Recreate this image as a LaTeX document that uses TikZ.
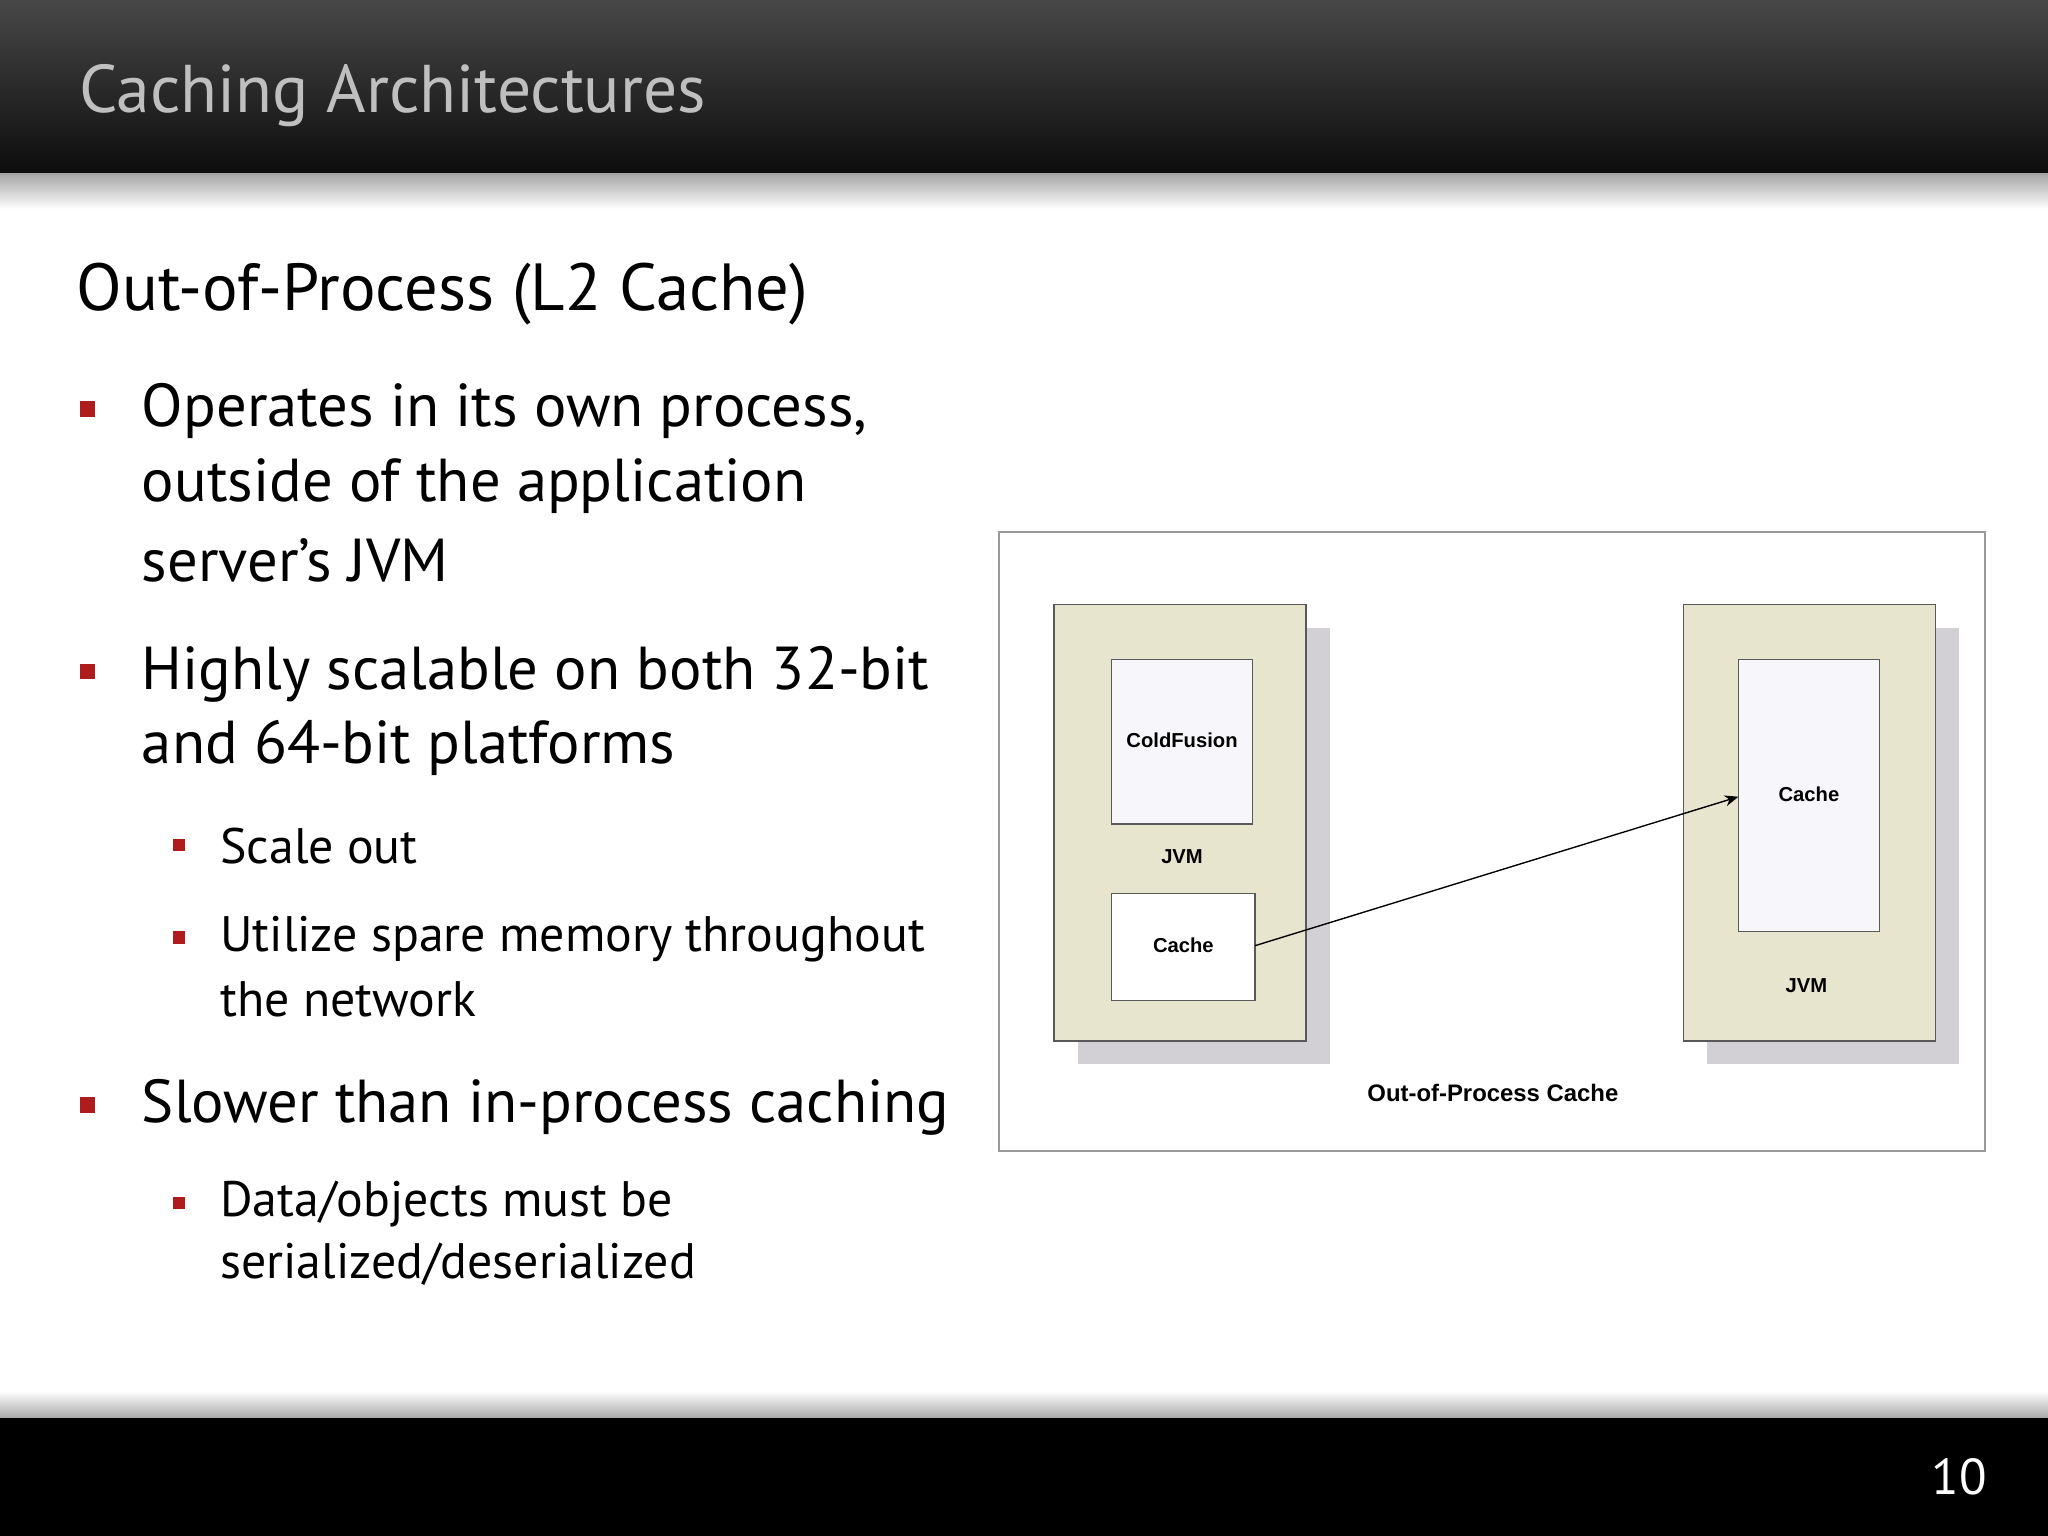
\documentclass[tikz,border=0pt]{standalone}
\usepackage{fontspec}
\setmainfont{PT Sans}
\newfontfamily\diag{Liberation Sans}
\usetikzlibrary{arrows.meta}
\definecolor{jvmfill}{HTML}{E8E5CF}
\definecolor{shadowgray}{HTML}{D2D0D5}
\definecolor{inner}{HTML}{F7F6FA}
\definecolor{bulred}{HTML}{B01C1C}
\tikzset{
  jvm/.style={draw=gray!70!black, fill=jvmfill, line width=0.3pt},
  box/.style={draw=gray!70!black, line width=0.3pt},
  lbl/.style={font=\diag\bfseries\fontsize{4.4}{5}\selectfont},
  main/.style={anchor=west, inner sep=0, font=\fontsize{13.2}{15}\selectfont},
  sub/.style={anchor=west, inner sep=0, font=\fontsize{10.85}{12}\selectfont},
  bul/.style={fill=bulred, minimum size=3.4pt, inner sep=0}
}
\begin{document}
\begin{tikzpicture}[x=0.01cm,y=-0.01cm]
\useasboundingbox (0,0) rectangle (1568,1176);
% header
\shade[top color=black!72, bottom color=black!95] (0,0) rectangle (1568,133);
\shade[top color=black!35, bottom color=white] (0,133) rectangle (1568,160);
\node[anchor=west, inner sep=0, text=black!25, font=\fontsize{14.7}{16}\selectfont] (title) at (60,73) {Caching Architectures};
% footer
\shade[top color=white, bottom color=black!35] (0,1065) rectangle (1568,1086);
\fill[black] (0,1086) rectangle (1568,1176);
\node[inner sep=0, text=white, font=\fontsize{11}{12}\selectfont] (page) at (1500,1131) {10};
% text
\node[anchor=west, inner sep=0, font=\fontsize{14.5}{16}\selectfont] (head) at (58,225) {Out-of-Process (L2 Cache)};
\node[bul] (b1) at (67,313) {};
\node[main] (t1a) at (108,315) {Operates in its own process,};
\node[main] (t1b) at (108,372) {outside of the application};
\node[main] (t1c) at (108,429) {server’s JVM};
\node[bul] (b2) at (67,514) {};
\node[main] (t2a) at (108,516) {Highly scalable on both 32-bit};
\node[main] (t2b) at (108,573) {and 64-bit platforms};
\node[bul, minimum size=2.8pt] (b3) at (137,647) {};
\node[sub] (t3) at (168,648) {Scale out};
\node[bul, minimum size=2.8pt] (b4) at (137,718) {};
\node[sub] (t4a) at (168,719) {Utilize spare memory throughout};
\node[sub] (t4b) at (168,765) {the network};
\node[bul] (b5) at (67,846) {};
\node[main] (t5) at (108,848) {Slower than in-process caching};
\node[bul, minimum size=2.8pt] (b6) at (137,921) {};
\node[sub] (t6a) at (168,922) {Data/objects must be};
\node[sub] (t6b) at (168,968) {serialized/deserialized};
% diagram
\draw[draw=gray!80, line width=0.4pt] (765,407) rectangle (1520,881);
\fill[shadowgray] (825,481) rectangle (1018,815);
\draw[jvm] (807,463) rectangle (1000,797);
\fill[shadowgray] (1307,481) rectangle (1500,815);
\draw[jvm] (1289,463) rectangle (1482,797);
\draw[box, fill=inner] (851,505) rectangle (959,631);
\node[lbl] (cfl) at (905,567) {ColdFusion};
\node[lbl] (jvm1) at (905,656) {JVM};
\draw[box, fill=white] (851,684) rectangle (961,766);
\coordinate (c1e) at (961,724);
\node[lbl] (c1) at (906,724) {Cache};
\draw[box, fill=inner] (1331,505) rectangle (1439,713);
\coordinate (c2w) at (1331,610);
\node[lbl] (c2) at (1385,608) {Cache};
\node[lbl] (jvm2) at (1383,755) {JVM};
\draw[line width=0.3pt, -{Stealth[length=3pt,width=2.4pt]}] (c1e) -- (c2w);
\node[lbl, font=\diag\bfseries\fontsize{5.2}{6}\selectfont] (cap) at (1143,837) {Out-of-Process Cache};
\end{tikzpicture}
\end{document}
